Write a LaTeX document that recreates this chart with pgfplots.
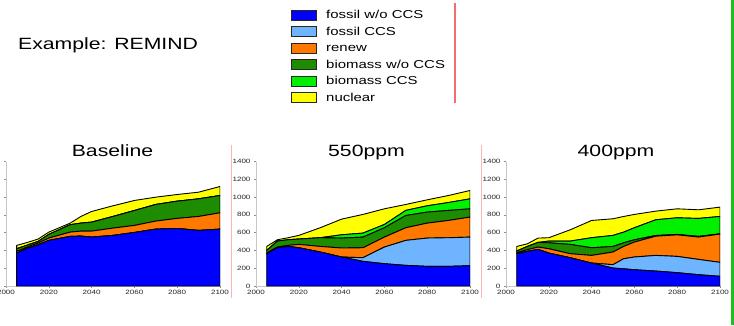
\documentclass[border=0pt]{standalone}
\usepackage{pgfplots}
\pgfplotsset{compat=1.18}
\usepackage{pgfplotstable}
\usepackage{fontspec}
\setmainfont{Liberation Sans}[FakeStretch=1.3]
\definecolor{cFos}{RGB}{0,0,255}
\definecolor{cFCCS}{RGB}{110,180,255}
\definecolor{cRen}{RGB}{255,120,0}
\definecolor{cBio}{RGB}{30,140,0}
\definecolor{cBCCS}{RGB}{0,240,0}
\definecolor{cNuc}{RGB}{255,255,0}
\definecolor{cRed}{RGB}{240,110,110}
\definecolor{cPink}{RGB}{255,180,180}
\definecolor{cGreenBar}{RGB}{30,190,30}

\pgfplotstableread{
year fos fccs ren bio bccs nuc
2005 370 0 19 30 0 38
2010 423 0 15 22 0 30
2015 464 0 19 18 0 27
2020 513 0 26 41 0 26
2030 558 0 48 83 0 18
2035 561 0 56 90 0 75
2040 550 0 67 101 0 120
2050 569 0 82 131 0 120
2060 602 0 79 168 0 113
2070 640 0 90 187 0 82
2080 647 0 113 194 0 75
2090 625 0 157 198 0 75
2100 640 0 183 195 0 101
}\tabA

\pgfplotstableread{
year fos fccs ren bio bccs nuc
2005 363 0 7 30 0 45
2010 430 0 8 67 0 15
2015 445 0 12 63 0 23
2020 430 0 38 60 0 41
2030 382 0 63 98 0 112
2040 326 0 101 112 37 176
2050 277 41 112 120 45 210
2060 251 187 112 105 37 176
2070 232 281 142 138 57 67
2080 221 318 168 124 71 67
2090 221 322 194 113 89 79
2100 228 322 225 93 112 94
}\tabB

\pgfplotstableread{
year fos fccs ren bio bccs nuc
2005 363 0 11 19 0 52
2010 389 0 19 37 0 30
2015 412 0 26 52 0 49
2020 370 0 49 67 19 38
2030 318 0 45 105 37 127
2040 258 0 86 86 113 194
2050 202 38 142 63 124 187
2055 193 114 138 41 120 176
2060 183 143 168 26 135 150
2070 168 176 216 8 177 97
2080 150 183 242 5 187 101
2090 127 172 251 8 202 97
2100 109 157 318 3 195 105
}\tabC

\pgfplotsset{
  panel/.style={
    scale only axis, width=214pt, height=124.5pt,
    anchor=south west,
    xmin=2000, xmax=2100, ymin=0, ymax=1400,
    xtick={2000,2020,...,2100}, ytick={0,200,...,1400},
    axis lines*=left,
    axis line style={draw=black!22, line width=0.8pt},
    tick style={draw=black!45, line width=0.4pt},
    major tick length=2pt, tick align=outside,
    tick label style={font=\fontsize{6.2}{7}\selectfont, text=black!85},
    xticklabel style={yshift=1pt},
    /pgf/number format/assume math mode=true,
    /pgf/number format/1000 sep={},
    stack plots=y,
  },
  lay/.style={fill=#1, draw=black, line width=0.9pt, line join=round},
}

\newcommand{\layers}[1]{%
  \addplot[lay=cFos] table[x=year,y=fos]{#1} \closedcycle;
  \addplot[lay=cFCCS] table[x=year,y=fccs]{#1} \closedcycle;
  \addplot[lay=cRen] table[x=year,y=ren]{#1} \closedcycle;
  \addplot[lay=cBio] table[x=year,y=bio]{#1} \closedcycle;
  \addplot[lay=cBCCS] table[x=year,y=bccs]{#1} \closedcycle;
  \addplot[lay=cNuc] table[x=year,y=nuc]{#1} \closedcycle;
}

\begin{document}
\begin{tikzpicture}
% background
\fill[white] (0pt,0pt) rectangle (734pt,325pt);

\begin{axis}[panel, at={(6pt,39pt)}]
\layers{\tabA}
\end{axis}
\begin{axis}[panel, at={(256pt,39pt)}]
\layers{\tabB}
\end{axis}
\begin{axis}[panel, at={(506pt,39pt)}]
\layers{\tabC}
\end{axis}

% titles
\node[anchor=base, font=\fontsize{16.3}{18}\selectfont] at (112.5pt,168.3pt) {Baseline};
\node[anchor=base, font=\fontsize{16.3}{18}\selectfont] at (366.5pt,168.3pt) {550ppm};
\node[anchor=base, font=\fontsize{16.3}{18}\selectfont] at (616pt,168.3pt) {400ppm};

\node[anchor=base west, inner sep=0pt, font=\fontsize{16.3}{18}\selectfont] at (18pt,275.7pt) {Example: REMIND};

% legend
\foreach \c/\t/\yc in {cFos/fossil w\slash o CCS/15, cFCCS/fossil CCS/31.5, cRen/renew/48, cBio/biomass w\slash o CCS/64.5, cBCCS/biomass CCS/81, cNuc/nuclear/97.5}{
  \filldraw[fill=\c, draw=black!85, line width=1pt] (291pt,{(325-\yc-5)*1pt}) rectangle (316pt,{(325-\yc+5)*1pt});
  \node[anchor=base west, inner sep=0pt, font=\fontsize{11.5}{13}\selectfont] at (326pt,{(325-\yc-3.9)*1pt}) {\t};
}

% decorative lines
\fill[cRed] (454.4pt,222pt) rectangle (455.6pt,322pt);
\fill[cPink] (231.1pt,27pt) rectangle (232.3pt,180pt);
\fill[cPink] (481.1pt,27pt) rectangle (482.3pt,180pt);
\fill[cGreenBar] (730.7pt,0pt) rectangle (734pt,325pt);

\pgfresetboundingbox
\path[use as bounding box] (0pt,0pt) rectangle (734pt,325pt);
\end{tikzpicture}
\end{document}
